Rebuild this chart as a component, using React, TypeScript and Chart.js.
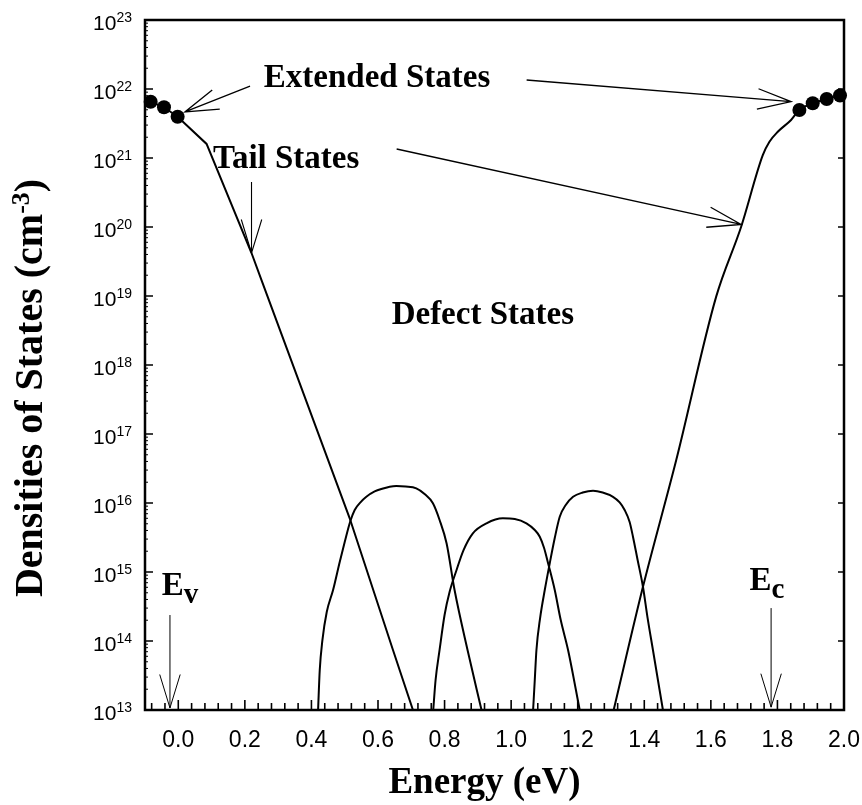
import React, { useEffect, useRef } from 'react';
import { Chart, registerables } from 'chart.js';

Chart.register(...registerables);

// ---------- data (energy in eV, density in cm^-3) ----------
const valenceExtE = [-0.083, -0.043, -0.002];
const valenceExtN = [6.55e21, 5.43e21, 3.97e21];
const valenceTailE = [0.085, 0.22, 0.25, 0.515, 0.645, 0.705];
const valenceTailN = [1.6e21, 4.2e19, 1.7e19, 6.0e15, 7.4e13, 1e13];

const conductionTailE = [1.308, 1.396, 1.496, 1.616, 1.691, 1.756, 1.776, 1.801, 1.841];
const conductionTailN = [1e13, 6.1e14, 4.2e16, 9.8e18, 1.01e20, 1.1e21, 1.72e21, 2.4e21, 3.56e21];
const conductionExtE = [1.866, 1.906, 1.948, 1.988];
const conductionExtN = [4.97e21, 6.21e21, 7.16e21, 8.05e21];

const defect1E = [0.42, 0.425, 0.433, 0.446, 0.465, 0.485, 0.5, 0.517, 0.53, 0.548, 0.565, 0.59, 0.615, 0.635, 0.655, 0.683, 0.715, 0.74, 0.765, 0.785, 0.806, 0.83, 0.869, 0.911];
const defect1N = [1e13, 3.8e13, 1.03e14, 2.63e14, 5.48e14, 1.4e15, 2.72e15, 5.48e15, 7.93e15, 1.03e16, 1.23e16, 1.47e16, 1.62e16, 1.72e16, 1.76e16, 1.73e16, 1.63e16, 1.35e16, 9.9e15, 5.68e15, 2.61e15, 5.48e14, 7.41e13, 1e13];
const defect2E = [0.766, 0.773, 0.785, 0.8, 0.815, 0.836, 0.857, 0.885, 0.926, 0.975, 1.011, 1.046, 1.071, 1.086, 1.099, 1.111, 1.131, 1.149, 1.171, 1.206];
const defect2N = [1e13, 2.72e13, 7.41e13, 2.38e14, 5.13e14, 1.07e15, 2.08e15, 3.64e15, 5.08e15, 6.0e15, 5.86e15, 5.08e15, 4.06e15, 3.25e15, 2.23e15, 1.34e15, 5.48e14, 2.01e14, 7.41e13, 1e13];
const defect3E = [1.066, 1.071, 1.076, 1.087, 1.101, 1.116, 1.131, 1.146, 1.164, 1.186, 1.215, 1.246, 1.275, 1.306, 1.326, 1.341, 1.356, 1.366, 1.38, 1.396, 1.41, 1.426, 1.456];
const defect3N = [1e13, 2.72e13, 7.41e13, 2.15e14, 5.48e14, 1.34e15, 3.11e15, 6.32e15, 9.35e15, 1.23e16, 1.42e16, 1.51e16, 1.42e16, 1.23e16, 1.02e16, 7.93e15, 5.31e15, 3.25e15, 1.49e15, 6.12e14, 2.15e14, 7.41e13, 1e13];

const yDecadeExponents = [13, 14, 15, 16, 17, 18, 19, 20, 21, 22, 23];
const xMin = -0.1;
const xMax = 2.0;
const xMajorStep = 0.2;
const xMinorStep = 0.04;

const xTitle = 'Energy (eV)';
const yTitleMain = 'Densities of States (cm';
const yTitleSup = '-3';
const yTitleEnd = ')';

// annotations (anchored in data coordinates)
const labelTexts = ['Extended States', 'Tail States', 'Defect States'];
const labelE = [0.257, 0.104, 0.641];
const labelN = [1.07e22, 7.2e20, 3.9e18];

const bandEdgeNames = ['E', 'E'];
const bandEdgeSubs = ['v', 'c'];
const bandEdgeE = [-0.05, 1.716];
const bandEdgeN = [4.64e14, 5.48e14];

const arrowFromE = [0.2156, 1.0465, 0.22, 0.656, -0.025, 1.781];
const arrowFromN = [1.10e22, 1.35e22, 4.49e20, 1.35e21, 2.38e14, 3.0e14];
const arrowToE = [0.0198, 1.841, 0.22, 1.691, -0.025, 1.781];
const arrowToN = [4.65e21, 6.55e21, 4.2e19, 1.09e20, 1.07e13, 1.1e13];
const arrowWidths = [1.3, 1.3, 1.1, 1.3, 1.0, 1.0];

const pts = (es: number[], ns: number[]) => es.map((e, i) => ({ x: e, y: ns[i] }));

const SERIF = '"Liberation Serif", "Times New Roman", serif';
const SANS = '"Liberation Sans", Arial, sans-serif';

function drawArrow(ctx: CanvasRenderingContext2D, x1: number, y1: number, x2: number, y2: number, len = 35, angDeg = 17) {
  const ang = (angDeg * Math.PI) / 180;
  const th = Math.atan2(y1 - y2, x1 - x2);
  ctx.beginPath();
  ctx.moveTo(x1, y1);
  ctx.lineTo(x2, y2);
  ctx.moveTo(x2 + len * Math.cos(th + ang), y2 + len * Math.sin(th + ang));
  ctx.lineTo(x2, y2);
  ctx.lineTo(x2 + len * Math.cos(th - ang), y2 + len * Math.sin(th - ang));
  ctx.stroke();
}

const overlayPlugin = {
  id: 'overlay',
  afterDraw(chart: any) {
    const { ctx, chartArea: a } = chart;
    const xs = chart.scales.x;
    const ys = chart.scales.y;
    const px = (e: number) => xs.getPixelForValue(e);
    const py = (n: number) => ys.getPixelForValue(n);
    ctx.save();
    ctx.strokeStyle = '#000';
    ctx.fillStyle = '#000';
    ctx.lineCap = 'butt';

    // x ticks (inward, bottom)
    ctx.lineWidth = 1.6;
    const kMin = Math.ceil(xMin / xMinorStep - 1e-9);
    const kMax = Math.floor(xMax / xMinorStep + 1e-9);
    const ratio = Math.round(xMajorStep / xMinorStep);
    for (let k = kMin; k <= kMax; k++) {
      const x = px(k * xMinorStep);
      const len = k % ratio === 0 ? 10 : 7;
      ctx.beginPath();
      ctx.moveTo(x, a.bottom);
      ctx.lineTo(x, a.bottom - len);
      ctx.stroke();
    }

    // y ticks (inward, left & right)
    for (let i = 0; i < yDecadeExponents.length; i++) {
      const d = yDecadeExponents[i];
      const y = py(Math.pow(10, d));
      ctx.lineWidth = 1.6;
      ctx.beginPath();
      ctx.moveTo(a.left, y);
      ctx.lineTo(a.left + 8, y);
      ctx.moveTo(a.right, y);
      ctx.lineTo(a.right - 6, y);
      ctx.stroke();
      if (i < yDecadeExponents.length - 1) {
        ctx.lineWidth = 1;
        for (let m = 2; m <= 9; m++) {
          const ym = py(m * Math.pow(10, d));
          ctx.beginPath();
          ctx.moveTo(a.left, ym);
          ctx.lineTo(a.left + 3, ym);
          ctx.stroke();
        }
      }
    }

    // frame
    ctx.lineWidth = 2.5;
    ctx.strokeRect(a.left, a.top, a.right - a.left, a.bottom - a.top);

    // y tick labels 10^n
    const labelRight = a.left - 13;
    for (const d of yDecadeExponents) {
      const y = py(Math.pow(10, d));
      const sup = String(d);
      ctx.font = `14px ${SANS}`;
      const wSup = ctx.measureText(sup).width;
      ctx.textAlign = 'right';
      ctx.textBaseline = 'alphabetic';
      ctx.fillText(sup, labelRight, y + 2);
      ctx.font = `21px ${SANS}`;
      ctx.fillText('10', labelRight - wSup, y + 10);
    }

    // x title
    ctx.font = `bold 37px ${SERIF}`;
    ctx.textAlign = 'center';
    ctx.textBaseline = 'alphabetic';
    ctx.fillText(xTitle, (a.left + a.right) / 2 - 10, 793);

    // y title (rotated, with superscript)
    ctx.save();
    ctx.translate(42, 388);
    ctx.rotate(-Math.PI / 2);
    ctx.textAlign = 'left';
    const fMain = `bold 40px ${SERIF}`;
    const fSup = `bold 26px ${SERIF}`;
    ctx.font = fMain;
    const w1 = ctx.measureText(yTitleMain).width;
    const w3 = ctx.measureText(yTitleEnd).width;
    ctx.font = fSup;
    const w2 = ctx.measureText(yTitleSup).width;
    let cx = -(w1 + w2 + w3) / 2;
    ctx.font = fMain;
    ctx.fillText(yTitleMain, cx, 0);
    cx += w1;
    ctx.font = fSup;
    ctx.fillText(yTitleSup, cx, -13);
    cx += w2;
    ctx.font = fMain;
    ctx.fillText(yTitleEnd, cx, 0);
    ctx.restore();

    // arrows
    for (let i = 0; i < arrowFromE.length; i++) {
      ctx.lineWidth = arrowWidths[i];
      drawArrow(ctx, px(arrowFromE[i]), py(arrowFromN[i]), px(arrowToE[i]), py(arrowToN[i]));
    }

    // labels
    ctx.textAlign = 'left';
    ctx.textBaseline = 'alphabetic';
    ctx.font = `bold 33px ${SERIF}`;
    for (let i = 0; i < labelTexts.length; i++) {
      ctx.fillText(labelTexts[i], px(labelE[i]), py(labelN[i]));
    }

    // band edges E_v, E_c
    for (let i = 0; i < bandEdgeNames.length; i++) {
      const x = px(bandEdgeE[i]);
      const y = py(bandEdgeN[i]);
      ctx.font = `bold 33px ${SERIF}`;
      ctx.fillText(bandEdgeNames[i], x, y);
      const w = ctx.measureText(bandEdgeNames[i]).width;
      ctx.font = `bold 29px ${SERIF}`;
      ctx.fillText(bandEdgeSubs[i], x + w, y + 8);
    }

    ctx.restore();
  },
};

export default function App() {
  const ref = useRef<HTMLCanvasElement>(null);

  useEffect(() => {
    if (!ref.current) return;
    Chart.defaults.color = '#000';
    const lineBase = {
      borderColor: '#000',
      backgroundColor: '#000',
      borderWidth: 2,
      pointRadius: 0,
      fill: false,
    };
    const dotBase = {
      showLine: false,
      pointRadius: 7,
      pointBackgroundColor: '#000',
      pointBorderColor: '#000',
      pointBorderWidth: 0,
      borderColor: '#000',
      clip: false,
    };
    const chart = new Chart(ref.current, {
      type: 'line',
      data: {
        datasets: [
          { ...dotBase, label: 'Extended states (valence)', data: pts(valenceExtE, valenceExtN) },
          { ...dotBase, label: 'Extended states (conduction)', data: pts(conductionExtE, conductionExtN) },
          {
            ...lineBase,
            label: 'Valence band tail',
            data: pts([...valenceExtE, ...valenceTailE], [...valenceExtN, ...valenceTailN]),
            tension: 0,
          },
          {
            ...lineBase,
            label: 'Conduction band tail',
            data: pts([...conductionTailE, ...conductionExtE], [...conductionTailN, ...conductionExtN]),
            cubicInterpolationMode: 'monotone',
          },
          { ...lineBase, label: 'Defect 1', data: pts(defect1E, defect1N), cubicInterpolationMode: 'monotone' },
          { ...lineBase, label: 'Defect 2', data: pts(defect2E, defect2N), cubicInterpolationMode: 'monotone' },
          { ...lineBase, label: 'Defect 3', data: pts(defect3E, defect3N), cubicInterpolationMode: 'monotone' },
        ] as any,
      },
      options: {
        responsive: false,
        maintainAspectRatio: false,
        animation: false,
        devicePixelRatio: 1,
        layout: { padding: { top: 20, right: 18, left: 0, bottom: 0 } },
        plugins: {
          legend: { display: false },
          tooltip: { enabled: false },
          title: { display: false },
        },
        scales: {
          x: {
            type: 'linear',
            min: xMin,
            max: xMax,
            grid: { display: false, drawTicks: false },
            border: { display: false },
            ticks: {
              stepSize: xMajorStep,
              includeBounds: false,
              autoSkip: false,
              maxRotation: 0,
              padding: 17,
              color: '#000',
              font: { family: SANS, size: 23 },
              callback: (v: any) => Number(v).toFixed(1),
            },
            afterFit: (s: any) => {
              s.height = 95;
              s.paddingLeft = 0;
              s.paddingRight = 0;
            },
          },
          y: {
            type: 'logarithmic',
            min: 1e13,
            max: 1e23,
            grid: { display: false, drawTicks: false },
            border: { display: false },
            ticks: { display: false },
            afterFit: (s: any) => {
              s.width = 145;
              s.paddingTop = 0;
              s.paddingBottom = 0;
            },
          },
        },
      } as any,
      plugins: [overlayPlugin],
    });
    return () => chart.destroy();
  }, []);

  return (
    <div style={{ position: 'fixed', left: 0, top: 0, width: 862, height: 805, background: '#fff' }}>
      <canvas ref={ref} width={862} height={805} style={{ display: 'block', width: 862, height: 805 }} />
    </div>
  );
}
